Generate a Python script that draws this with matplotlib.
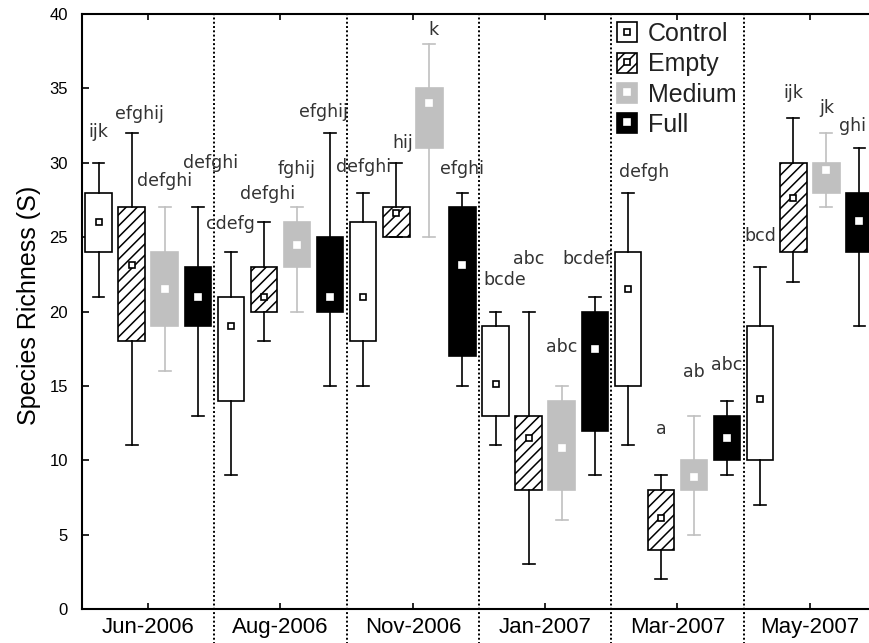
import numpy as np
import matplotlib
matplotlib.use('Agg')
import matplotlib.pyplot as plt
from matplotlib.patches import Patch
from matplotlib.lines import Line2D
from matplotlib.legend_handler import HandlerTuple
import matplotlib.transforms as mtransforms

# Sampling dates and treatments
months = ['Jun-2006', 'Aug-2006', 'Nov-2006', 'Jan-2007', 'Mar-2007', 'May-2007']
treatments = ['Control', 'Empty', 'Medium', 'Full']

# Box statistics per treatment (one value per month)
whisk_lo = {'Control': [21, 9, 15, 11, 11, 7],
            'Empty':   [11, 18, 25, 3, 2, 22],
            'Medium':  [16, 20, 25, 6, 5, 27],
            'Full':    [13, 15, 15, 9, 9, 19]}
box_lo = {'Control': [24, 14, 18, 13, 15, 10],
          'Empty':   [18, 20, 25, 8, 4, 24],
          'Medium':  [19, 23, 31, 8, 8, 28],
          'Full':    [19, 20, 17, 12, 10, 24]}
centre = {'Control': [26, 19, 21, 15.1, 21.5, 14.1],
          'Empty':   [23.1, 21, 26.6, 11.5, 6.1, 27.6],
          'Medium':  [21.5, 24.5, 34, 10.8, 8.9, 29.5],
          'Full':    [21, 21, 23.1, 17.5, 11.5, 26.1]}
box_hi = {'Control': [28, 21, 26, 19, 24, 19],
          'Empty':   [27, 23, 27, 13, 8, 30],
          'Medium':  [24, 26, 35, 14, 10, 30],
          'Full':    [23, 25, 27, 20, 13, 28]}
whisk_hi = {'Control': [30, 24, 28, 20, 28, 23],
            'Empty':   [32, 26, 30, 20, 9, 33],
            'Medium':  [27, 27, 38, 15, 13, 32],
            'Full':    [27, 32, 28, 21, 14, 31]}

# Post-hoc grouping letters
letters = {'Control': ['ijk', 'cdefg', 'defghi', 'bcde', 'defgh', 'bcd'],
           'Empty':   ['efghij', 'defghi', 'hij', 'abc', 'a', 'ijk'],
           'Medium':  ['defghi', 'fghij', 'k', 'abc', 'ab', 'jk'],
           'Full':    ['defghi', 'efghij', 'efghi', 'bcdef', 'abc', 'ghi']}

# letter placement relative to the top whisker (layout only)
lab_dx = {'Control': [0, 0, 0, 0.07, 0.12, 0],
          'Empty':   [0.06, 0.03, 0.05, 0, 0, 0],
          'Medium':  [0, 0, 0.03, 0, 0, 0],
          'Full':    [0.1, -0.05, 0, -0.06, 0, -0.05]}
lab_dy = {'Control': [2.05, 1.9, 1.7, 2.1, 1.4, 2.1],
          'Empty':   [1.3, 1.9, 1.3, 3.5, 3.1, 1.7],
          'Medium':  [1.75, 2.6, 0.9, 2.6, 2.9, 1.7],
          'Full':    [3.0, 1.4, 1.6, 2.5, 2.4, 1.5]}

gray = '#c0c0c0'
styles = {
    'Control': dict(face='white', edge='black', hatch=None, medge='black'),
    'Empty':   dict(face='white', edge='black', hatch='///', medge='black'),
    'Medium':  dict(face=gray, edge=gray, hatch=None, medge='white'),
    'Full':    dict(face='black', edge='black', hatch=None, medge='white'),
}

plt.rcParams['font.family'] = ['Liberation Sans', 'DejaVu Sans']
plt.rcParams['hatch.linewidth'] = 1.1

fig = plt.figure(figsize=(8.7, 6.43), dpi=100)
ax = fig.add_axes([82 / 870, 34 / 643, 794 / 870, 595 / 643])

positions = np.arange(1, len(months) + 1)
offsets = [-0.375, -0.125, 0.125, 0.375]

for i, t in enumerate(treatments):
    st = styles[t]
    stats = []
    for j in range(len(months)):
        stats.append(dict(whislo=whisk_lo[t][j], q1=box_lo[t][j], med=centre[t][j],
                          q3=box_hi[t][j], whishi=whisk_hi[t][j], mean=centre[t][j],
                          fliers=[]))
    ax.bxp(stats, positions=positions + offsets[i], widths=0.2, capwidths=0.09,
           patch_artist=True, showmeans=True, manage_ticks=False,
           boxprops=dict(facecolor=st['face'], edgecolor=st['edge'],
                         hatch=st['hatch'], linewidth=1.2),
           whiskerprops=dict(color=st['edge'], linewidth=1.2),
           capprops=dict(color=st['edge'], linewidth=1.2),
           medianprops=dict(visible=False),
           meanprops=dict(marker='s', markersize=5, markerfacecolor='white',
                          markeredgecolor=st['medge'], markeredgewidth=1.2))
    # grouping letters above each box
    for j in range(len(months)):
        ax.text(positions[j] + offsets[i] + lab_dx[t][j], whisk_hi[t][j] + lab_dy[t][j],
                letters[t][j], ha='center', va='center', fontsize=12.5,
                family='DejaVu Sans', color='#333333')

# dotted separators between sampling dates
trans = mtransforms.blended_transform_factory(ax.transData, ax.transAxes)
for x in positions[:-1] + 0.5:
    ax.plot([x, x], [-0.06, 1], transform=trans, color='black', lw=1.4,
            ls=(0, (1, 1.2)), clip_on=False)

ax.set_xlim(0.5, 6.5)
ax.set_ylim(0, 40)
ax.set_yticks(range(0, 41, 5))
ax.set_xticks(positions)
ax.set_xticklabels(months)
ax.tick_params(axis='x', direction='in', top=True, length=4, width=1.2,
               labelsize=16, pad=6)
ax.tick_params(axis='y', direction='in', length=5, width=1.2, labelsize=12, pad=10)
for s in ['left', 'bottom', 'top']:
    ax.spines[s].set_linewidth(1.5)
ax.spines['right'].set_visible(False)

ax.set_ylabel('Species Richness (S)', fontsize=18)
ax.yaxis.set_label_coords(-0.052, 0.51)

# legend: box swatch with the centre marker drawn on top
handles = []
for t in treatments:
    st = styles[t]
    handles.append((Patch(facecolor=st['face'], edgecolor=st['edge'], hatch=st['hatch'], lw=1.2),
                    Line2D([], [], marker='s', ls='none', markersize=5, markerfacecolor='white',
                           markeredgecolor=st['medge'], markeredgewidth=1.2)))
ax.legend(handles, treatments, handler_map={tuple: HandlerTuple(ndivide=1)},
          loc='upper left', bbox_to_anchor=(617 / 870, 1 - 22 / 643),
          bbox_transform=fig.transFigure, frameon=False, borderpad=0,
          borderaxespad=0, fontsize=18, handlelength=0.8, handleheight=0.85,
          handletextpad=0.45, labelspacing=0.25, labelcolor='#222222')

fig.savefig('out.png', dpi=100)
